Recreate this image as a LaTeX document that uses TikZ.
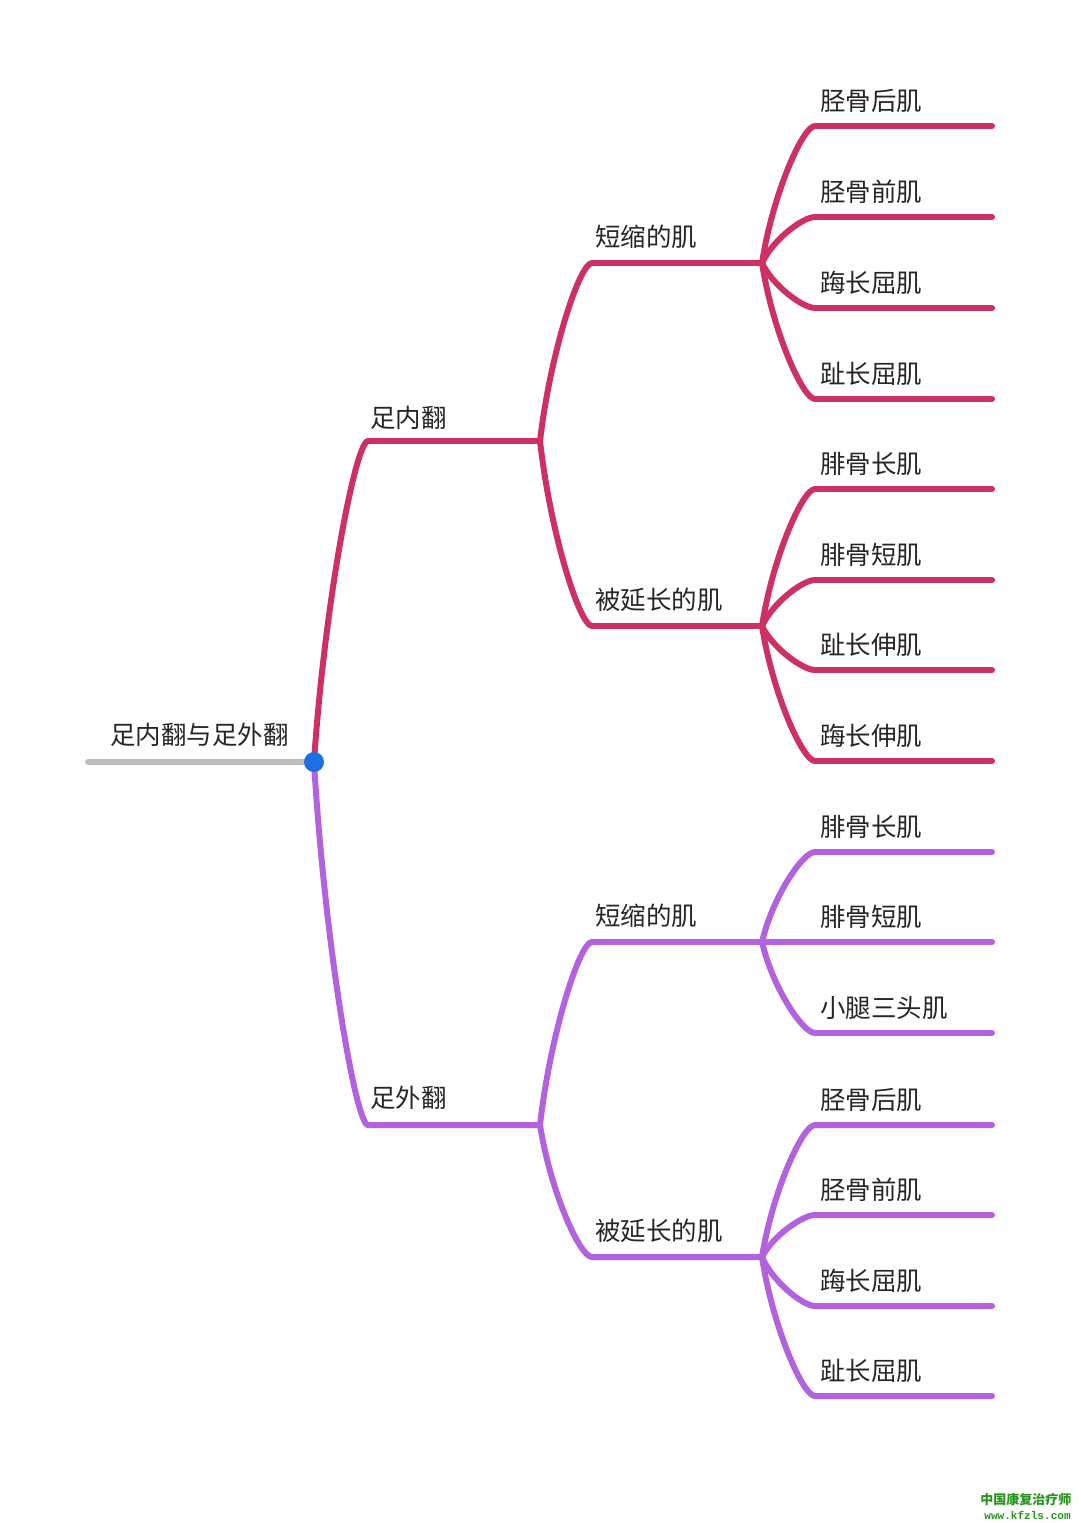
\documentclass[tikz,border=0pt]{standalone}
\usepackage{fontspec}
\newfontfamily\cjk{Noto Sans CJK SC}
\newfontfamily\wmono{Liberation Mono}
\usetikzlibrary{positioning,calc}

\definecolor{invred}{RGB}{206,48,98}
\definecolor{evpurple}{RGB}{178,98,222}
\definecolor{rootgray}{RGB}{190,190,190}
\definecolor{dotblue}{RGB}{28,112,228}
\definecolor{markgreen}{RGB}{40,150,30}

\begin{document}
\begin{tikzpicture}[
			x=0.02cm, y=-0.02cm,
			every node/.style={
					font=\cjk\fontsize{14.5}{17}\selectfont,
					text=black!85,
					inner sep=0pt,
					anchor=west
				},
			branch/.style={line width=3.4pt, line cap=round, line join=round},
			inv/.style={branch, draw=invred},
			ev/.style={branch, draw=evpurple},
			bough/.style={to path={let \p1=(\tikztostart), \p2=(\tikztotarget) in
								.. controls ({\x1+0.2*(\x2-\x1)},{\y1+0.5*(\y2-\y1)}) and ({\x2-7pt},\y2) .. (\p2) \tikztonodes}}
		]

		\useasboundingbox[fill=white] (0,0) rectangle (1080,1523);

		% junctions
		\coordinate (root) at (314,762);
		\coordinate (inv) at (540,441);
		\coordinate (ev) at (540,1125);
		\coordinate (invS) at (762,263);
		\coordinate (invL) at (762,626);
		\coordinate (evS) at (762,942);
		\coordinate (evL) at (762,1257);
		\coordinate (rootstart) at (88,762);

		% first level
		\node (title) at (110,735) {足内翻与足外翻};
		\node (invlab) at (370,418) {足内翻};
		\node (evlab) at (370,1098) {足外翻};
		\coordinate (invc) at (368,441);
		\coordinate (evc) at (368,1125);
		\draw[inv] (root) to[bough] (invc) -- (inv);
		\draw[ev] (root) to[bough] (evc) -- (ev);

		% second level
		\node (invSlab) at (595,237) {短缩的肌};
		\node (invLlab) at (595,600) {被延长的肌};
		\node (evSlab) at (595,916) {短缩的肌};
		\node (evLlab) at (595,1231) {被延长的肌};
		\coordinate (invSc) at (592,263);
		\coordinate (invLc) at (592,626);
		\coordinate (evSc) at (592,942);
		\coordinate (evLc) at (592,1257);
		\draw[inv] (inv) to[bough] (invSc) -- (invS);
		\draw[inv] (inv) to[bough] (invLc) -- (invL);
		\draw[ev] (ev) to[bough] (evSc) -- (evS);
		\draw[ev] (ev) to[bough] (evLc) -- (evL);

		% muscles
		\foreach \m/\y/\t in {a1/126/胫骨后肌, a2/217/胫骨前肌, a3/308/踇长屈肌, a4/399/趾长屈肌}{
				\node (\m) at (820,\y-25) {\t};
				\coordinate (\m c) at (815,\y);
				\coordinate (\m e) at (992,\y);
				\draw[inv] (invS) to[bough] (\m c) -- (\m e);
			}
		\foreach \m/\y/\t in {b1/489/腓骨长肌, b2/580/腓骨短肌, b3/670/趾长伸肌, b4/761/踇长伸肌}{
				\node (\m) at (820,\y-25) {\t};
				\coordinate (\m c) at (815,\y);
				\coordinate (\m e) at (992,\y);
				\draw[inv] (invL) to[bough] (\m c) -- (\m e);
			}
		\foreach \m/\y/\t in {c1/852/腓骨长肌, c2/942/腓骨短肌, c3/1033/小腿三头肌}{
				\node (\m) at (820,\y-25) {\t};
				\coordinate (\m c) at (815,\y);
				\coordinate (\m e) at (992,\y);
				\draw[ev] (evS) to[bough] (\m c) -- (\m e);
			}
		\foreach \m/\y/\t in {d1/1125/胫骨后肌, d2/1215/胫骨前肌, d3/1306/踇长屈肌, d4/1396/趾长屈肌}{
				\node (\m) at (820,\y-25) {\t};
				\coordinate (\m c) at (815,\y);
				\coordinate (\m e) at (992,\y);
				\draw[ev] (evL) to[bough] (\m c) -- (\m e);
			}

		% root
		\draw[line width=3.4pt, line cap=round, rootgray] (rootstart) -- (root);
		\fill[dotblue] (root) circle (10);

		% watermark
		\node (mark) at (980,1499) [font=\cjk\bfseries\fontsize{7.4}{8}\selectfont, text=markgreen] {中国康复治疗师};
		\node (site) at (984,1515) [font=\wmono\bfseries\fontsize{6.3}{7}\selectfont, text=markgreen] {www.kfzls.com};

	\end{tikzpicture}
\end{document}
